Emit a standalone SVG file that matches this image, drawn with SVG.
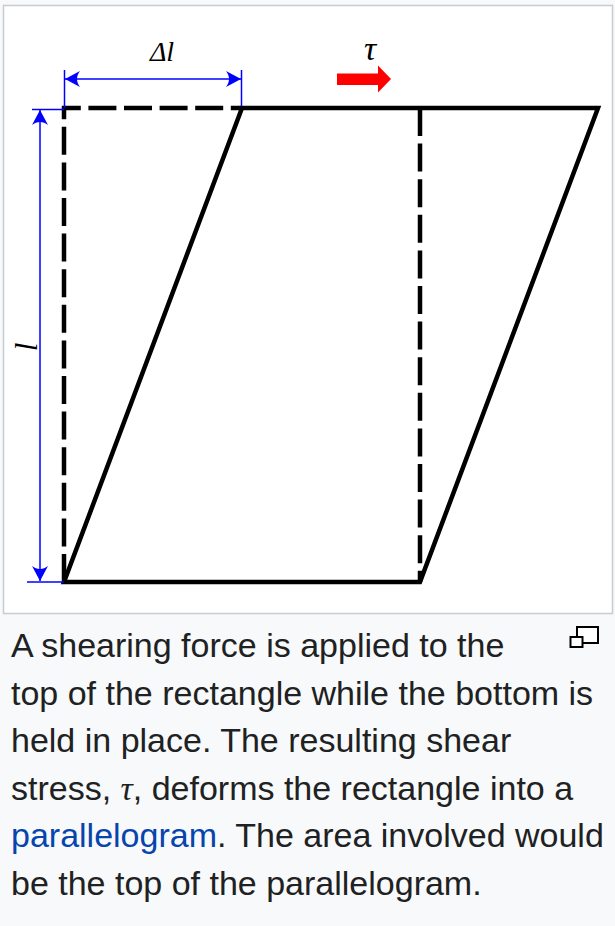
<svg xmlns="http://www.w3.org/2000/svg" width="615" height="926" viewBox="0 0 615 926">
<style>
.frame{fill:#ffffff;stroke:#c8ccd1;stroke-width:1.5}
.solid{fill:none;stroke:#000;stroke-width:4.5;stroke-linejoin:miter;stroke-miterlimit:10}
.dash{fill:none;stroke:#000;stroke-width:4.5;stroke-dasharray:28 7.6;stroke-linejoin:miter}
.dim{fill:none;stroke:#0000ff;stroke-width:1.5}
.dimarrow{fill:none;stroke:#0000ff;stroke-width:1.5;marker-start:url(#ah);marker-end:url(#ah)}
.math{font-family:"Liberation Serif","DejaVu Serif",serif;font-style:italic;fill:#000}
.cap{font-family:"Liberation Sans",Arial,sans-serif;font-size:34px;fill:#202122}
.link{fill:#0645ad}
.icon{fill:#fff;stroke:#000;stroke-width:2}
</style>
<defs>
<marker id="ah" markerUnits="userSpaceOnUse" markerWidth="20" markerHeight="20" viewBox="-16 -10 20 20" refX="0" refY="0" orient="auto-start-reverse" overflow="visible">
<path d="M0,0 L-15,-8 C-11,-3 -11,3 -15,8 Z" fill="#0000ff"/>
</marker>
</defs>
<rect x="0" y="0" width="615" height="926" fill="#f8f9fa"/>
<rect class="frame" x="3.5" y="5.5" width="609" height="608"/>
<g id="original-rectangle">
<path class="dash" d="M64,582 V108 H242"/>
<path class="dash" d="M420,108 V582"/>
</g>
<g id="parallelogram">
<path class="solid" d="M64,582 L242,108 L598,108 L420,582 Z"/>
</g>
<g id="connectors">
<line class="dim" x1="64.5" y1="70" x2="64.5" y2="108"/>
<line class="dim" x1="241.5" y1="70" x2="241.5" y2="106"/>
<line class="dimarrow" x1="65" y1="79" x2="241" y2="79"/>
<line class="dim" x1="32" y1="109.5" x2="64" y2="109.5"/>
<line class="dim" x1="27" y1="582" x2="64" y2="582"/>
<line class="dimarrow" x1="40" y1="110" x2="40" y2="581"/>
<path id="shear-arrow" d="M337,73.5 L378,73.5 L378,65.5 L391,79 L378,92.5 L378,85 L337,85 Z" fill="#ff0000"/>
</g>
<g id="label-delta-l"><text class="math" x="162" y="61" font-size="28" text-anchor="middle">Δl</text></g>
<g id="label-tau"><text class="math" x="370" y="60" font-size="34" text-anchor="middle">τ</text></g>
<g id="label-l"><text class="math" font-size="31" text-anchor="middle" transform="translate(37,347) rotate(-90)">l</text></g>
<g id="caption">
<text class="cap" x="11" y="657">A shearing force is applied to the</text>
<text class="cap" x="11" y="704.6">top of the rectangle while the bottom is</text>
<text class="cap" x="11" y="752.2">held in place. The resulting shear</text>
<text class="cap" x="11" y="799.8">stress, <tspan font-family="Liberation Serif,serif" font-style="italic">τ</tspan>, deforms the rectangle into a</text>
<text class="cap" x="11" y="847.4"><tspan class="link">parallelogram</tspan>. The area involved would</text>
<text class="cap" x="11" y="895">be the top of the parallelogram.</text>
<g id="magnify-icon">
<rect class="icon" x="577" y="627" width="21" height="16"/>
<rect class="icon" x="570.5" y="637" width="12" height="10"/>
</g>
</g>
</svg>
